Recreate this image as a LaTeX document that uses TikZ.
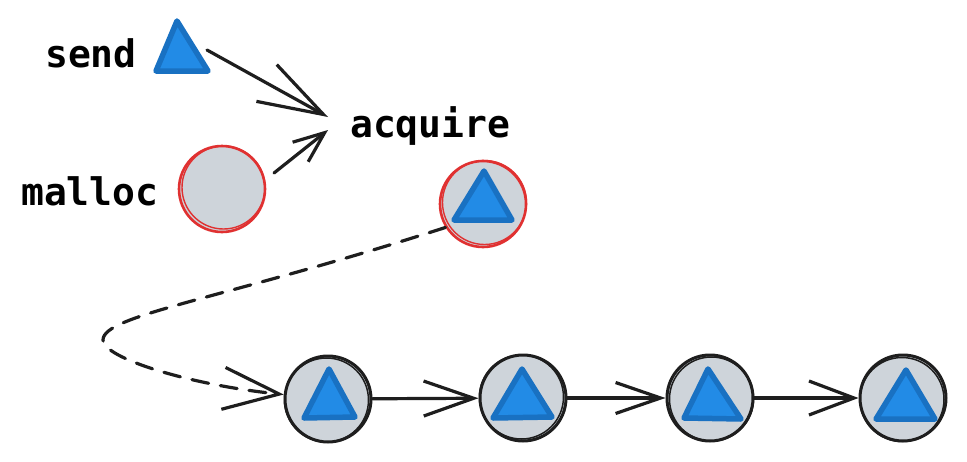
\documentclass[tikz,border=0pt]{standalone}
\usepackage{fontspec}
\setmonofont{DejaVu Sans Mono}
\usetikzlibrary{arrows.meta}
\definecolor{ink}{HTML}{1E1E1E}
\definecolor{bfill}{HTML}{228BE6}
\definecolor{bstroke}{HTML}{1971C2}
\definecolor{gfill}{HTML}{CED4DA}
\definecolor{rstroke}{HTML}{E03131}
\begin{document}
\begin{tikzpicture}[x=1pt,y=-1pt,
  lbl/.style={font=\ttfamily\bfseries\fontsize{38}{40}\selectfont, text=black, inner sep=0pt, anchor=base west},
  ball/.style={circle, fill=gfill, draw=ink, line width=3pt, minimum size=86pt, inner sep=0pt},
  rball/.style={ball, draw=rstroke, line width=2.6pt},
  sketch/.style={draw=ink, line width=1.5pt},
  rsketch/.style={draw=rstroke, line width=1.4pt},
  tri/.style={fill=bfill, draw=bstroke, line width=5.5pt, line join=round},
  conn/.style={draw=ink, line width=3.2pt, line cap=round},
  dconn/.style={conn, dash pattern=on 17pt off 12pt}
]
\useasboundingbox (0,0) rectangle (967,461);

% labels
\node[lbl] (send) at (45,67) {send};
\node[lbl] (acquire) at (350,137) {acquire};
\node[lbl] (malloc) at (21,205) {malloc};

% send triangle
\draw[tri] (177,21) -- (156,71) -- (208,71) -- cycle;
\coordinate (sendtri) at (207,50);

% balls
\node[rball] (mball) at (222,189) {};
\draw[rsketch] ([shift={(1.5,-1.5)}]mball.center) circle[radius=41.5pt];
\node[rball] (aball) at (483,204) {};
\draw[rsketch] ([shift={(1.5,-1.5)}]aball.center) circle[radius=42pt];
\draw[tri, shift={(aball.center)}] (1,-33) -- (-29,16) -- (29,16) -- cycle;

\node[ball] (c1) at (328,399) {};
\draw[sketch] ([shift={(-1.5,1)}]c1.center) circle[radius=42pt];
\draw[tri, shift={(c1.center)}] (1,-30) -- (-24,19) -- (27,18) -- cycle;

\node[ball] (c2) at (523,398) {};
\draw[sketch] ([shift={(-1.5,-1)}]c2.center) circle[radius=42pt];
\draw[tri, shift={(c2.center)}] (-1,-29) -- (-30,20) -- (29,19) -- cycle;

\node[ball] (c3) at (710,398) {};
\draw[sketch] ([shift={(1.5,1)}]c3.center) circle[radius=42pt];
\draw[tri, shift={(c3.center)}] (-2,-29) -- (-26,20) -- (31,21) -- cycle;

\node[ball] (c4) at (903,398) {};
\draw[sketch] ([shift={(-1,1.5)}]c4.center) circle[radius=42pt];
\draw[tri, shift={(c4.center)}] (3,-28) -- (-27,21) -- (32,21) -- cycle;

% arrow end points near acquire
\coordinate (in1) at (328,117);
\coordinate (in2) at (328,130);
\coordinate (mout) at (274,173);

% connectors
\draw[conn, -{Straight Barb[length=65pt,width=42pt]}] (sendtri) -- (in1);
\draw[conn, -{Straight Barb[length=31pt,width=25pt]}] (mout) -- (in2);

\draw[dconn, -{Straight Barb[length=56pt,width=42pt]}]
  (aball.212) .. controls (220,300) and (103,315) .. (103,340)
  .. controls (103,358) and (190,385) .. (c1);

\draw[conn, -{Straight Barb[length=50pt,width=35pt]}] (c1) -- (c2);
\draw[conn, -{Straight Barb[length=45pt,width=31pt]}] (c2) -- (c3);
\draw[conn, -{Straight Barb[length=45pt,width=34pt]}] (c3) -- (c4);
\end{tikzpicture}
\end{document}
